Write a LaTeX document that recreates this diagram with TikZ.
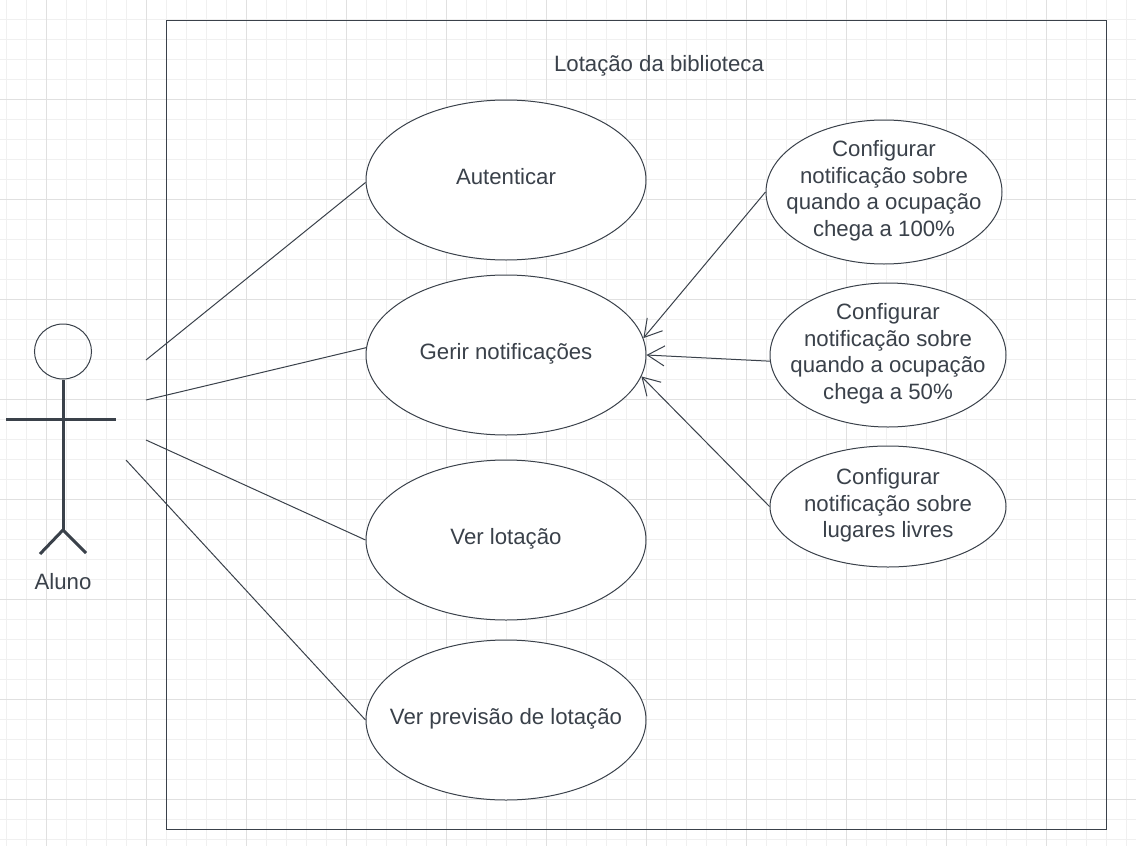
\documentclass[tikz,border=0pt]{standalone}
\usepackage{fontspec}
\setmainfont{Liberation Sans}
\usetikzlibrary{shapes.geometric,arrows.meta}
\definecolor{ink}{HTML}{3A414A}
\definecolor{gridminor}{HTML}{F0F0F0}
\definecolor{gridmajor}{HTML}{E0E0E0}
\tikzset{
  every node/.style={text=ink, font=\fontsize{22.2}{26.6}\selectfont, inner sep=0pt},
  usecase/.style={draw=ink, line width=1pt, fill=white, shape=ellipse, inner xsep=-25pt, minimum width=280pt, minimum height=160pt, text height=16pt, text depth=8pt},
  config/.style={draw=ink, line width=1pt, fill=white, shape=ellipse, inner xsep=-20pt, inner ysep=-20pt, minimum width=236pt, minimum height=144pt, align=center, text depth=7pt},
  assoc/.style={draw=ink, line width=1pt},
  incl/.style={assoc, -{Straight Barb[length=17pt,width=20pt]}},
  stick/.style={draw=ink, line width=3pt}
}

\begin{document}
\begin{tikzpicture}[x=1pt, y=-1pt]
\useasboundingbox (0,0) rectangle (1136,846);
\fill[white] (0,0) rectangle (1136,846);
% grid
\foreach \gx in {6,26,...,1126} \draw[gridminor, line width=1pt] (\gx+0.5,0) -- (\gx+0.5,846);
\foreach \gy in {19,39,...,839} \draw[gridminor, line width=1pt] (0,\gy+0.5) -- (1136,\gy+0.5);
\foreach \gx in {46,146,...,1046} \draw[gridmajor, line width=1pt] (\gx+0.5,0) -- (\gx+0.5,846);
\foreach \gy in {99,199,...,799} \draw[gridmajor, line width=1pt] (0,\gy+0.5) -- (1136,\gy+0.5);
% system boundary
\node (sistema) [draw=ink, line width=1pt, minimum width=940pt, minimum height=809pt] at (636.5,425) {};
\node (titulo) at (659,66) {Lotação da biblioteca};
% use cases
\node (autenticar) [usecase] at (506,180) {Autenticar};
\node (gerir) [usecase] at (506,355) {Gerir notificações};
\node (lotacao) [usecase] at (506,540) {Ver lotação};
\node (previsao) [usecase] at (506,720) {Ver previsão de lotação};
\node (cem) [config] at (884,192) {Configurar\\notificação sobre\\quando a ocupação\\chega a 100\%};
\node (cinquenta) [config] at (888,355) {Configurar\\notificação sobre\\quando a ocupação\\chega a 50\%};
\node (livres) [config, minimum height=121pt] at (888,506.5) {Configurar\\notificação sobre\\lugares livres};
% actor
\node (cabeca) [draw=ink, line width=1pt, shape=ellipse, minimum width=57pt, minimum height=55pt] at (63,351.5) {};
\coordinate (anca) at (63,530);
\coordinate (ombro) at (63,419);
\draw[stick] (cabeca.south) -- (anca);
\draw[stick] (6,419) -- (ombro) -- (116,419);
\draw[stick] (40,554) -- (anca) -- (86,553);
\node (aluno) at (63,582) {Aluno};
% connectors
\coordinate (a1) at (146,360);
\coordinate (a2) at (146,400);
\coordinate (a3) at (146,440);
\coordinate (a4) at (126,460);
\draw[assoc] (a1) to (autenticar.181);
\draw[assoc] (a2) to (gerir.177);
\draw[assoc] (a3) to (lotacao.west);
\draw[assoc] (a4) to (previsao.west);
\draw[incl] (cem.west) to (gerir.7.4);
\draw[incl] (cinquenta.183) to (gerir.east);
\draw[incl] (livres.west) to (gerir.-9.7);
\end{tikzpicture}
\end{document}
